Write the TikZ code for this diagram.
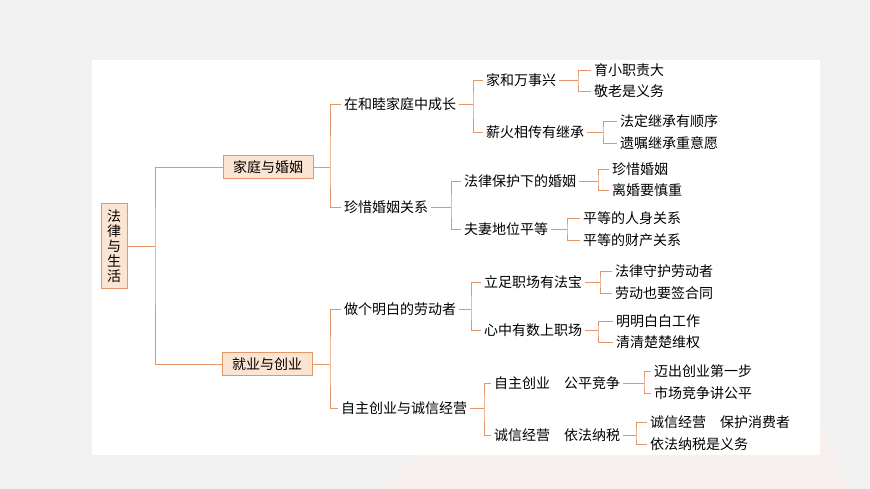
\documentclass[tikz,border=0pt]{standalone}
\usepackage{fontspec}
\setmainfont{Noto Sans CJK SC}
\begin{document}
\begin{tikzpicture}[x=1pt,y=-1pt,
  t/.style={anchor=west,inner xsep=3pt,inner ysep=1pt,font=\fontsize{14}{15}\selectfont},
  bx/.style={draw=lineor,fill=boxfill,line width=0.8pt,inner xsep=10pt,inner ysep=5pt,font=\fontsize{14}{15}\selectfont},
  ln/.style={draw=lineor,line width=0.8pt}]
\definecolor{lineor}{RGB}{228,150,105}
\definecolor{boxfill}{RGB}{252,228,210}
\definecolor{pagebg}{RGB}{241,241,241}
\definecolor{booktint}{RGB}{240,222,218}
\useasboundingbox (0,0) rectangle (870,489);
\fill[pagebg] (0,0) rectangle (870,489);
\fill[booktint!45] (380,489) -- (420,450) -- (600,420) -- (790,405) -- (820,420) -- (850,489) -- cycle;
\fill[white] (92,60) rectangle (820,455);
% root and level 1
\node[bx,inner xsep=6pt,inner ysep=6pt,align=center] (root) at (114,246) {法\\律\\与\\生\\活};
\node[bx] (a) at (268,167) {家庭与婚姻};
\node[bx] (b) at (267,364) {就业与创业};
% level 2
\node[t] (a1) at (341,104) {在和睦家庭中成长};
\node[t] (a2) at (341,207) {珍惜婚姻关系};
\node[t] (b1) at (341,309) {做个明白的劳动者};
\node[t] (b2) at (338,408) {自主创业与诚信经营};
% level 3
\node[t] (a11) at (483,80) {家和万事兴};
\node[t] (a12) at (483,132) {薪火相传有继承};
\node[t] (a21) at (461,181) {法律保护下的婚姻};
\node[t] (a22) at (461,229) {夫妻地位平等};
\node[t] (b11) at (481,282) {立足职场有法宝};
\node[t] (b12) at (481,330) {心中有数上职场};
\node[t] (b21) at (491,383) {自主创业\hspace{1em}公平竞争};
\node[t] (b22) at (491,435) {诚信经营\hspace{1em}依法纳税};
% level 4
\node[t] (a111) at (591,70) {育小职责大};
\node[t] (a112) at (591,91) {敬老是义务};
\node[t] (a121) at (617,121) {法定继承有顺序};
\node[t] (a122) at (617,143) {遗嘱继承重意愿};
\node[t] (a211) at (609,169) {珍惜婚姻};
\node[t] (a212) at (609,190) {离婚要慎重};
\node[t] (a221) at (580,218) {平等的人身关系};
\node[t] (a222) at (580,240) {平等的财产关系};
\node[t] (b111) at (612,271) {法律守护劳动者};
\node[t] (b112) at (612,293) {劳动也要签合同};
\node[t] (b121) at (613,321) {明明白白工作};
\node[t] (b122) at (613,342) {清清楚楚维权};
\node[t] (b211) at (651,371) {迈出创业第一步};
\node[t] (b212) at (651,393) {市场竞争讲公平};
\node[t] (b221) at (647,422) {诚信经营\hspace{1em}保护消费者};
\node[t] (b222) at (647,444) {依法纳税是义务};
% connectors
\newcommand{\brk}[4]{%
  \draw[ln] (#1.east) -- (#2,0 |- #1.east) coordinate (m#1);
  \draw[ln] (#3.west) -| (m#1) |- (#4.west);}
\brk{root}{155}{a}{b}
\brk{a}{330}{a1}{a2}
\brk{b}{330}{b1}{b2}
\brk{a1}{473}{a11}{a12}
\brk{a2}{451}{a21}{a22}
\brk{b1}{471}{b11}{b12}
\brk{b2}{484}{b21}{b22}
\brk{a11}{578}{a111}{a112}
\brk{a12}{603}{a121}{a122}
\brk{a21}{598}{a211}{a212}
\brk{a22}{567}{a221}{a222}
\brk{b11}{600}{b111}{b112}
\brk{b12}{598}{b121}{b122}
\brk{b21}{644}{b211}{b212}
\brk{b22}{636}{b221}{b222}
\end{tikzpicture}
\end{document}
